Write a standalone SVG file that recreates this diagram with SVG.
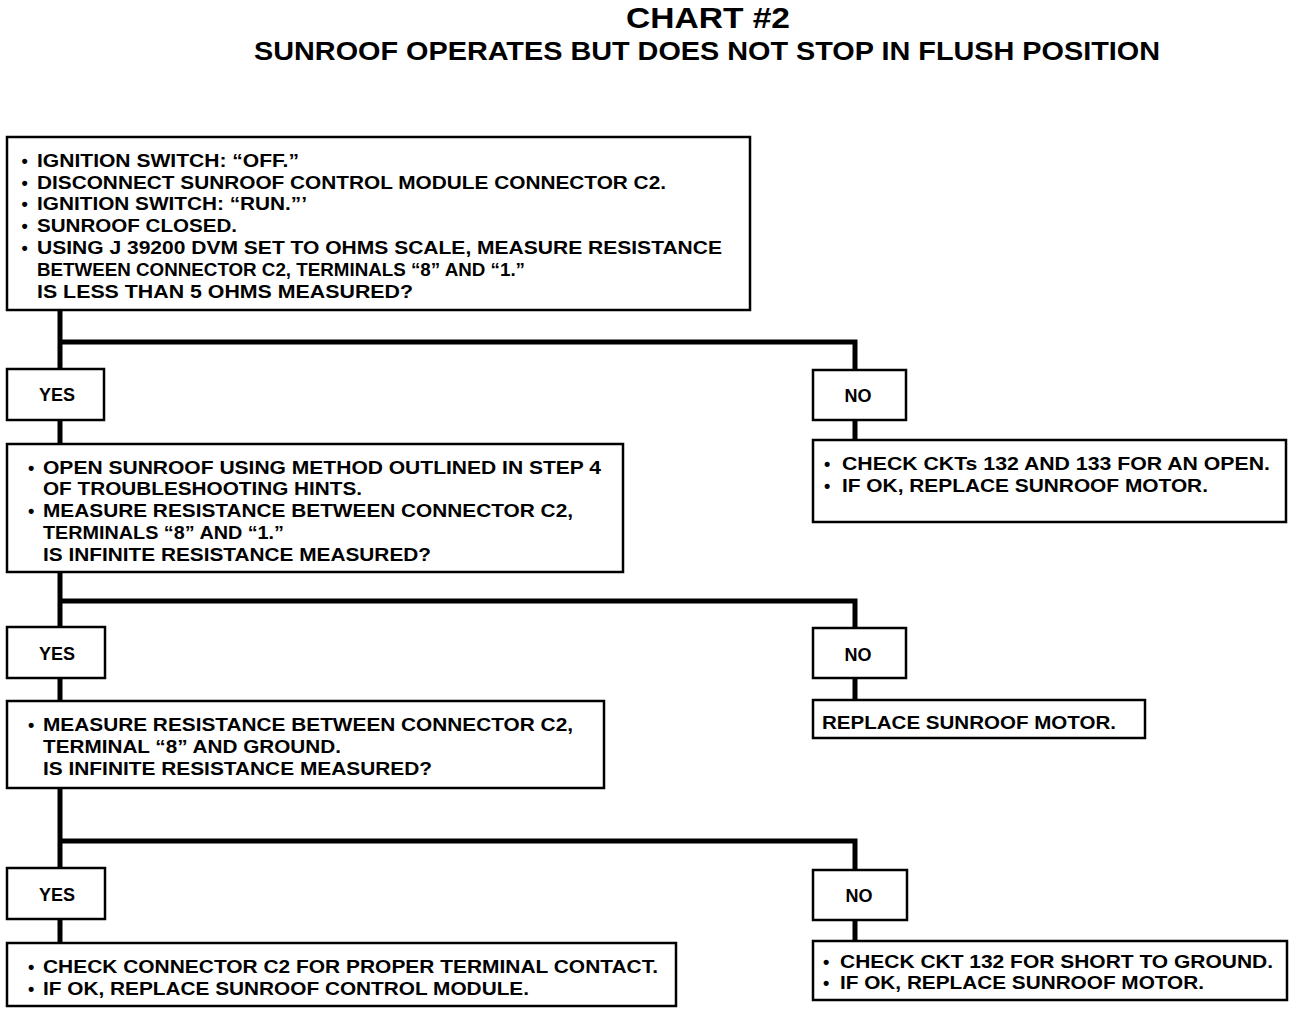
<svg xmlns="http://www.w3.org/2000/svg" width="1312" height="1014" viewBox="0 0 1312 1014">
<style>
.box{fill:#fff;stroke:#000;stroke-width:2.5}
.t{font-family:"Liberation Sans",Arial,sans-serif;font-weight:bold;font-size:18px;fill:#000}
.lbl{font-family:"Liberation Sans",Arial,sans-serif;font-weight:bold;font-size:18px;fill:#000;text-anchor:middle}
.title{font-family:"Liberation Sans",Arial,sans-serif;font-weight:bold;fill:#000;text-anchor:middle}
.c{fill:none;stroke:#000;stroke-width:5;stroke-linecap:square}
</style>
<rect width="1312" height="1014" fill="#fff"/>
<g id="title">
<text class="title" x="708" y="28" font-size="30" textLength="164" lengthAdjust="spacingAndGlyphs">CHART #2</text>
<text class="title" x="707" y="60" font-size="26" textLength="906" lengthAdjust="spacingAndGlyphs">SUNROOF OPERATES BUT DOES NOT STOP IN FLUSH POSITION</text>
</g>
<g id="connectors">
<path class="c" d="M60 311 V369 M60 342 H855 V369"/>
<path class="c" d="M60 421 V443 M855 421 V440"/>
<path class="c" d="M60 573 V627 M60 601 H855 V627"/>
<path class="c" d="M60 679 V700 M855 679 V699"/>
<path class="c" d="M60 789 V868 M60 841 H855 V869"/>
<path class="c" d="M60 920 V942 M855 921 V940"/>
</g>
<g id="step1">
<rect class="box" x="7" y="137" width="743" height="173"/>
<text class="t" x="21.5" y="167">•</text><text class="t" x="37" y="167" textLength="262" lengthAdjust="spacingAndGlyphs">IGNITION SWITCH: “OFF.”</text>
<text class="t" x="21.5" y="189">•</text><text class="t" x="37" y="189" textLength="629" lengthAdjust="spacingAndGlyphs">DISCONNECT SUNROOF CONTROL MODULE CONNECTOR C2.</text>
<text class="t" x="21.5" y="210">•</text><text class="t" x="37" y="210" textLength="270" lengthAdjust="spacingAndGlyphs">IGNITION SWITCH: “RUN.”’</text>
<text class="t" x="21.5" y="232">•</text><text class="t" x="37" y="232" textLength="200" lengthAdjust="spacingAndGlyphs">SUNROOF CLOSED.</text>
<text class="t" x="21.5" y="254">•</text><text class="t" x="37" y="254" textLength="685" lengthAdjust="spacingAndGlyphs">USING J 39200 DVM SET TO OHMS SCALE, MEASURE RESISTANCE</text>
<text class="t" x="37" y="276" textLength="488" lengthAdjust="spacingAndGlyphs">BETWEEN CONNECTOR C2, TERMINALS “8” AND “1.”</text>
<text class="t" x="37" y="298" textLength="376" lengthAdjust="spacingAndGlyphs">IS LESS THAN 5 OHMS MEASURED?</text>
</g>
<g id="yes1"><rect class="box" x="7" y="369" width="97" height="51"/><text class="lbl" x="57" y="401">YES</text></g>
<g id="no1"><rect class="box" x="813" y="370" width="93" height="50"/><text class="lbl" x="858" y="402">NO</text></g>
<g id="step2">
<rect class="box" x="7" y="444" width="616" height="128"/>
<text class="t" x="28" y="474">•</text><text class="t" x="43" y="474" textLength="558" lengthAdjust="spacingAndGlyphs">OPEN SUNROOF USING METHOD OUTLINED IN STEP 4</text>
<text class="t" x="43" y="495" textLength="319" lengthAdjust="spacingAndGlyphs">OF TROUBLESHOOTING HINTS.</text>
<text class="t" x="28" y="517">•</text><text class="t" x="43" y="517" textLength="530" lengthAdjust="spacingAndGlyphs">MEASURE RESISTANCE BETWEEN CONNECTOR C2,</text>
<text class="t" x="43" y="539" textLength="241" lengthAdjust="spacingAndGlyphs">TERMINALS “8” AND “1.”</text>
<text class="t" x="43" y="561" textLength="388" lengthAdjust="spacingAndGlyphs">IS INFINITE RESISTANCE MEASURED?</text>
</g>
<g id="noresult1">
<rect class="box" x="813" y="440" width="473" height="82"/>
<text class="t" x="824" y="470">•</text><text class="t" x="842" y="470" textLength="428" lengthAdjust="spacingAndGlyphs">CHECK CKTs 132 AND 133 FOR AN OPEN.</text>
<text class="t" x="824" y="492">•</text><text class="t" x="842" y="492" textLength="366" lengthAdjust="spacingAndGlyphs">IF OK, REPLACE SUNROOF MOTOR.</text>
</g>
<g id="yes2"><rect class="box" x="7" y="627" width="98" height="51"/><text class="lbl" x="57" y="660">YES</text></g>
<g id="no2"><rect class="box" x="813" y="628" width="93" height="50"/><text class="lbl" x="858" y="661">NO</text></g>
<g id="step3">
<rect class="box" x="7" y="701" width="597" height="87"/>
<text class="t" x="28" y="731">•</text><text class="t" x="43" y="731" textLength="530" lengthAdjust="spacingAndGlyphs">MEASURE RESISTANCE BETWEEN CONNECTOR C2,</text>
<text class="t" x="43" y="753" textLength="298" lengthAdjust="spacingAndGlyphs">TERMINAL “8” AND GROUND.</text>
<text class="t" x="43" y="775" textLength="389" lengthAdjust="spacingAndGlyphs">IS INFINITE RESISTANCE MEASURED?</text>
</g>
<g id="noresult2">
<rect class="box" x="813" y="700" width="332" height="38"/>
<text class="t" x="822" y="729" textLength="294" lengthAdjust="spacingAndGlyphs">REPLACE SUNROOF MOTOR.</text>
</g>
<g id="yes3"><rect class="box" x="7" y="868" width="98" height="51"/><text class="lbl" x="57" y="901">YES</text></g>
<g id="no3"><rect class="box" x="813" y="870" width="94" height="50"/><text class="lbl" x="859" y="902">NO</text></g>
<g id="step4">
<rect class="box" x="7" y="943" width="669" height="63"/>
<text class="t" x="28" y="973">•</text><text class="t" x="43" y="973" textLength="615" lengthAdjust="spacingAndGlyphs">CHECK CONNECTOR C2 FOR PROPER TERMINAL CONTACT.</text>
<text class="t" x="28" y="995">•</text><text class="t" x="43" y="995" textLength="486" lengthAdjust="spacingAndGlyphs">IF OK, REPLACE SUNROOF CONTROL MODULE.</text>
</g>
<g id="noresult3">
<rect class="box" x="813" y="941" width="474" height="59"/>
<text class="t" x="823" y="968">•</text><text class="t" x="840" y="968" textLength="433" lengthAdjust="spacingAndGlyphs">CHECK CKT 132 FOR SHORT TO GROUND.</text>
<text class="t" x="823" y="989">•</text><text class="t" x="840" y="989" textLength="364" lengthAdjust="spacingAndGlyphs">IF OK, REPLACE SUNROOF MOTOR.</text>
</g>
</svg>
